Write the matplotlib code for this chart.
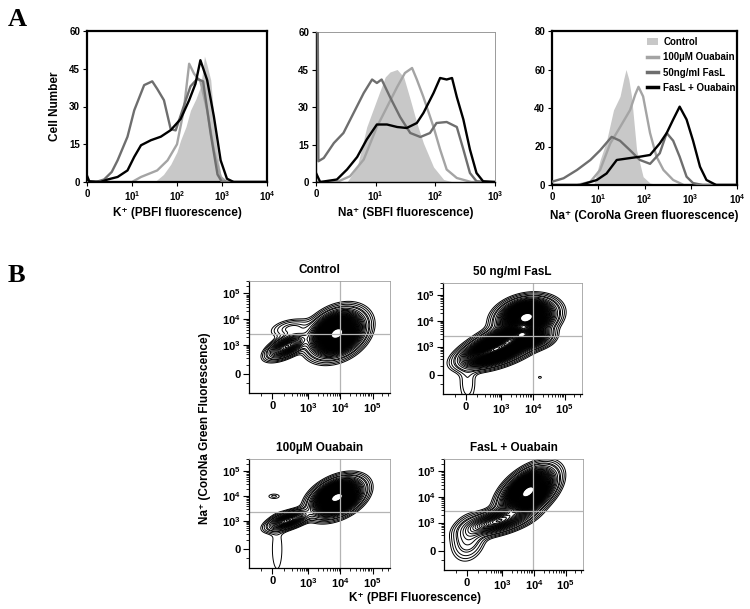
import numpy as np
import matplotlib.pyplot as plt
from matplotlib.patches import Patch
from matplotlib.lines import Line2D

plt.rcParams['font.family'] = ['Liberation Sans', 'DejaVu Sans']
plt.rcParams['font.weight'] = 'bold'
plt.rcParams['mathtext.fontset'] = 'custom'
plt.rcParams['mathtext.bf'] = 'Liberation Sans:bold'
plt.rcParams['mathtext.rm'] = 'Liberation Sans:bold'
plt.rcParams['mathtext.default'] = 'bf'

# ---------------- panel A data (x in decades: 0 -> "0", 1 -> 10^1 ...) ----------------
series_names = ['Control', '100\u00b5M Ouabain', '50ng/ml FasL', 'FasL + Ouabain']
c_ctrl, c_oua, c_fas, c_blk = '#c8c8c8', '#a4a4a4', '#6e6e6e', '#000000'

# K+ (PBFI)
h1_ctrl_x = [1.50, 1.70, 1.86, 2.00, 2.08, 2.20, 2.30, 2.42, 2.52, 2.58, 2.61, 2.66, 2.75, 2.86, 2.97, 3.05]
h1_ctrl_y = [0, 3, 7, 12, 16.6, 22, 28.5, 33, 37.8, 45, 50, 47, 40.5, 16.6, 3.3, 0]
h1_oua_x = [0, 1.0, 1.2, 1.56, 1.79, 2.0, 2.15, 2.27, 2.38, 2.52, 2.67, 2.82, 2.97, 3.1, 4.0]
h1_oua_y = [0, 0, 2, 4.6, 8.6, 15, 28.5, 47, 43, 40, 28.5, 12.6, 2, 0, 0]
h1_fas_x = [0, 0.2, 0.38, 0.55, 0.68, 0.9, 1.05, 1.27, 1.45, 1.56, 1.71, 1.86, 1.97, 2.12, 2.3, 2.45, 2.58, 2.75, 2.9, 3.0, 4.0]
h1_fas_y = [0, 0, 1, 4, 8.6, 18, 28.5, 38.5, 40, 37, 32.5, 21, 20.5, 28.5, 38, 41, 40, 19, 3, 0, 0]
h1_blk_x = [0, 0.05, 0.3, 0.46, 0.68, 0.9, 1.05, 1.2, 1.42, 1.64, 1.86, 2.08, 2.27, 2.41, 2.52, 2.67, 2.82, 2.97, 3.11, 3.26, 4.0]
h1_blk_y = [2.5, 0.3, 0, 1, 2, 4.6, 10, 14.6, 16.6, 18, 20.6, 25, 32.5, 39, 48.4, 40.5, 26, 8.6, 1.3, 0, 0]

# Na+ (SBFI)
h2_ctrl_x = [0.52, 0.69, 0.85, 1.02, 1.16, 1.24, 1.36, 1.47, 1.58, 1.69, 1.80, 1.97, 2.14, 2.3]
h2_ctrl_y = [0, 6, 22, 33, 42, 44, 45, 42, 33, 23.6, 15.6, 6, 1, 0]
h2_oua_x = [0, 0.35, 0.57, 0.80, 1.02, 1.19, 1.36, 1.49, 1.61, 1.69, 1.80, 1.97, 2.08, 2.19, 2.36, 2.6, 3.0]
h2_oua_y = [0, 0, 2.3, 9, 22, 30, 38, 43.6, 45.6, 41, 34, 22, 13, 5, 1.6, 0, 0]
h2_fas_x = [0, 0.03, 0.04, 0.13, 0.30, 0.46, 0.63, 0.80, 0.94, 1.02, 1.10, 1.24, 1.41, 1.58, 1.75, 1.91, 2.02, 2.19, 2.36, 2.47, 2.58, 2.69, 2.85, 3.0]
h2_fas_y = [60, 60, 8.3, 9.6, 15.6, 19.6, 27.6, 35.6, 41, 39.6, 41, 34, 26, 19.6, 18, 19.6, 23.6, 24, 22, 13, 3.6, 0.3, 0, 0]
h2_blk_x = [0, 0.07, 0.35, 0.52, 0.69, 0.85, 1.02, 1.19, 1.36, 1.52, 1.69, 1.80, 1.97, 2.08, 2.19, 2.28, 2.36, 2.47, 2.58, 2.69, 2.80, 3.0]
h2_blk_y = [3.6, 0, 1, 5, 10, 17, 23, 23, 22, 21.6, 23.6, 27.6, 35.6, 41.6, 41, 41.6, 34, 25, 13, 3.6, 0.3, 0]

# Na+ (CoroNa Green)
h3_ctrl_x = [0.90, 1.04, 1.18, 1.33, 1.47, 1.55, 1.60, 1.66, 1.72, 1.83, 1.97, 2.12, 2.35]
h3_ctrl_y = [0, 13, 23, 39, 46, 55, 60, 55, 46, 18, 4.3, 1, 0]
h3_oua_x = [0, 0.54, 0.83, 1.04, 1.26, 1.47, 1.69, 1.80, 1.87, 1.97, 2.12, 2.26, 2.41, 2.62, 2.85, 4.0]
h3_oua_y = [0, 0, 1.7, 7.8, 21.6, 30, 39, 47, 51, 46, 27, 14.7, 7.8, 2.6, 0, 0]
h3_fas_x = [0, 0.25, 0.54, 0.83, 1.04, 1.29, 1.47, 1.69, 1.90, 2.12, 2.33, 2.48, 2.62, 2.76, 2.91, 3.05, 3.26, 4.0]
h3_fas_y = [1.7, 3.5, 7.8, 13, 18, 25, 23, 18, 13, 11, 16.5, 27, 23, 14.7, 4.3, 1, 0, 0]
h3_blk_x = [0, 0.61, 0.97, 1.18, 1.40, 1.69, 1.90, 2.12, 2.33, 2.48, 2.62, 2.76, 2.91, 3.05, 3.20, 3.34, 3.55, 4.0]
h3_blk_y = [0, 0, 2.6, 6, 13, 14, 14.7, 15.6, 21.6, 27, 34, 40.7, 34, 23, 9.5, 2.6, 0, 0]

# ---------------- panel B data: cell populations (x, y in decades; sx, sy, rho, peak) ----------------
pop_control = [(3.90, 3.45, 0.38, 0.40, 0.30, 1.00),
               (2.35, 2.95, 0.30, 0.24, 0.60, 0.28),
               (2.50, 3.65, 0.35, 0.20, 0.30, 0.04)]
pop_fasl = [(3.80, 4.15, 0.40, 0.32, 0.20, 1.00),
            (3.75, 3.45, 0.35, 0.22, 0.00, 0.60),
            (3.10, 3.10, 0.50, 0.35, 0.50, 0.55),
            (2.60, 2.75, 0.45, 0.28, 0.50, 0.45),
            (1.95, 1.60, 0.18, 0.55, 0.00, 0.018),
            (4.22, 1.80, 0.05, 0.04, 0.00, 0.012)]
pop_ouabain = [(3.90, 3.95, 0.36, 0.34, 0.40, 1.00),
               (2.40, 3.05, 0.32, 0.20, 0.60, 0.28),
               (1.95, 4.00, 0.15, 0.08, 0.00, 0.013),
               (2.05, 1.90, 0.17, 0.90, 0.00, 0.0115)]
pop_both = [(3.82, 4.20, 0.38, 0.42, 0.50, 1.00),
            (2.85, 3.05, 0.50, 0.27, 0.55, 0.30),
            (1.95, 2.40, 0.28, 0.45, 0.20, 0.06)]
gate_x = [4.00, 4.00, 4.00, 3.98]
gate_y = [3.44, 3.41, 3.38, 3.46]
b_titles = ['Control', '50 ng/ml FasL', '100\u00b5M Ouabain', 'FasL + Ouabain']

W, H = 750, 609
fig = plt.figure(figsize=(7.5, 6.09), dpi=100)


def box(l, r, t, b):
    return [l / W, 1 - b / H, (r - l) / W, (b - t) / H]


def hist_axes(rect, xmax, ymax, yticks, xlabel, spine_style):
    ax = fig.add_axes(rect)
    ax.set_xlim(0, xmax)
    ax.set_ylim(0, ymax)
    ax.set_yticks(yticks)
    ax.set_xticks(range(xmax + 1))
    ax.set_xticklabels(['0'] + ['10$^{%d}$' % i for i in range(1, xmax + 1)])
    ax.tick_params(direction='out', length=3, width=0.8, labelsize=7, pad=2)
    ax.set_xlabel(xlabel, fontsize=8.5, fontweight='bold', labelpad=3)
    for s in ax.spines.values():
        s.set_linewidth(1.6)
        s.set_color('black')
    if spine_style == 'thin':
        for s in ['top', 'right']:
            ax.spines[s].set_color('#9a9a9a')
            ax.spines[s].set_linewidth(0.7)
        for s in ['left', 'bottom']:
            ax.spines[s].set_linewidth(1.0)
    return ax


def draw_hist(ax, ctrl, oua, fas, blk):
    ax.fill_between(ctrl[0], ctrl[1], color=c_ctrl, lw=0, zorder=1)
    ax.plot(oua[0], oua[1], color=c_oua, lw=1.7, zorder=2)
    ax.plot(fas[0], fas[1], color=c_fas, lw=1.7, zorder=3)
    ax.plot(blk[0], blk[1], color=c_blk, lw=1.7, zorder=4)


ax1 = hist_axes(box(87, 267, 31, 182), 4, 60, [0, 15, 30, 45, 60], 'K\u207a (PBFI fluorescence)', 'thick')
draw_hist(ax1, (h1_ctrl_x, h1_ctrl_y), (h1_oua_x, h1_oua_y), (h1_fas_x, h1_fas_y), (h1_blk_x, h1_blk_y))
ax1.set_ylabel('Cell Number', fontsize=8.5, fontweight='bold', labelpad=6)

ax2 = hist_axes(box(316, 495, 32, 182), 3, 60, [0, 15, 30, 45, 60], 'Na\u207a (SBFI fluorescence)', 'thin')
draw_hist(ax2, (h2_ctrl_x, h2_ctrl_y), (h2_oua_x, h2_oua_y), (h2_fas_x, h2_fas_y), (h2_blk_x, h2_blk_y))

ax3 = hist_axes(box(552, 737, 31, 185), 4, 80, [0, 20, 40, 60, 80], 'Na\u207a (CoroNa Green fluorescence)', 'thick')
draw_hist(ax3, (h3_ctrl_x, h3_ctrl_y), (h3_oua_x, h3_oua_y), (h3_fas_x, h3_fas_y), (h3_blk_x, h3_blk_y))
handles = [Patch(facecolor=c_ctrl, edgecolor='none'),
           Line2D([], [], color=c_oua, lw=2.5),
           Line2D([], [], color=c_fas, lw=2.5),
           Line2D([], [], color=c_blk, lw=2.5)]
ax3.legend(handles, series_names, loc='upper left', bbox_to_anchor=(0.48, 1.0), frameon=False,
           fontsize=7, handlelength=1.2, handletextpad=0.5, labelspacing=0.55, borderaxespad=0.2)

fig.text(8 / W, 1 - 19 / H, 'A', family='Liberation Serif', fontweight='bold', fontsize=19, va='center')
fig.text(8 / W, 1 - 276 / H, 'B', family='Liberation Serif', fontweight='bold', fontsize=19, va='center')

# ---------------- panel B ----------------
xg = np.linspace(1.0, 5.8, 450)
yg = np.linspace(0.9, 5.7, 450)
X, Y = np.meshgrid(xg, yg)


def density(pops):
    Z = np.zeros_like(X)
    for cx, cy, sx, sy, rho, amp in pops:
        dx = (X - cx) / sx
        dy = (Y - cy) / sy
        q = (dx ** 2 - 2 * rho * dx * dy + dy ** 2) / (1 - rho ** 2)
        Z += amp * np.exp(-q / 2)
    return Z


major_pos = [1.9, 3, 4, 5]
major_lab = ['0', '10$^{3}$', '10$^{4}$', '10$^{5}$']
minor_pos = [1.55, 2.25, 2.5, 2.65, 2.75, 2.82, 2.88, 2.93, 2.97]
minor_pos += [n + np.log10(k) for n in (3, 4) for k in range(2, 10)]
minor_pos += [5.3, 5.48]

b_boxes = [box(249, 390, 281, 393), box(443, 582, 283, 394),
           box(249, 390, 459, 568), box(444, 583, 459, 570)]
b_pops = [pop_control, pop_fasl, pop_ouabain, pop_both]

for i in range(4):
    ax = fig.add_axes(b_boxes[i])
    Z = density(b_pops[i])
    zmax = Z.max()
    levels = np.concatenate([zmax * np.logspace(-2.1, -1.55, 4), zmax * np.linspace(0.035, 0.9, 55)])
    ax.contour(X, Y, Z, levels=np.sort(levels), colors='black', linewidths=0.7)
    ax.axvline(gate_x[i], color='#b4b4b4', lw=0.9)
    ax.axhline(gate_y[i], color='#b4b4b4', lw=0.9)
    ax.set_xlim(1.18, 5.54)
    ax.set_ylim(1.15, 5.41)
    ax.set_xticks(major_pos)
    ax.set_xticklabels(major_lab)
    ax.set_yticks(major_pos)
    ax.set_yticklabels(major_lab)
    ax.set_xticks(minor_pos, minor=True)
    ax.set_yticks(minor_pos, minor=True)
    ax.tick_params(which='major', direction='out', length=4, width=0.8, labelsize=8, pad=2)
    ax.tick_params(which='minor', direction='out', length=2, width=0.6)
    for s in ['top', 'right']:
        ax.spines[s].set_color('#a0a0a0')
        ax.spines[s].set_linewidth(0.6)
    for s in ['left', 'bottom']:
        ax.spines[s].set_linewidth(0.9)
    ax.set_title(b_titles[i], fontsize=8.5, fontweight='bold', pad=6)

fig.text(205 / W, 1 - 428 / H, 'Na\u207a (CoroNa Green Fluorescence)', rotation=90,
         fontsize=8.5, fontweight='bold', ha='center', va='center')
fig.text(415 / W, 1 - 598 / H, 'K\u207a (PBFI Fluorescence)', fontsize=8.5, fontweight='bold',
         ha='center', va='center')

fig.savefig('out.png', dpi=100, facecolor='white')
